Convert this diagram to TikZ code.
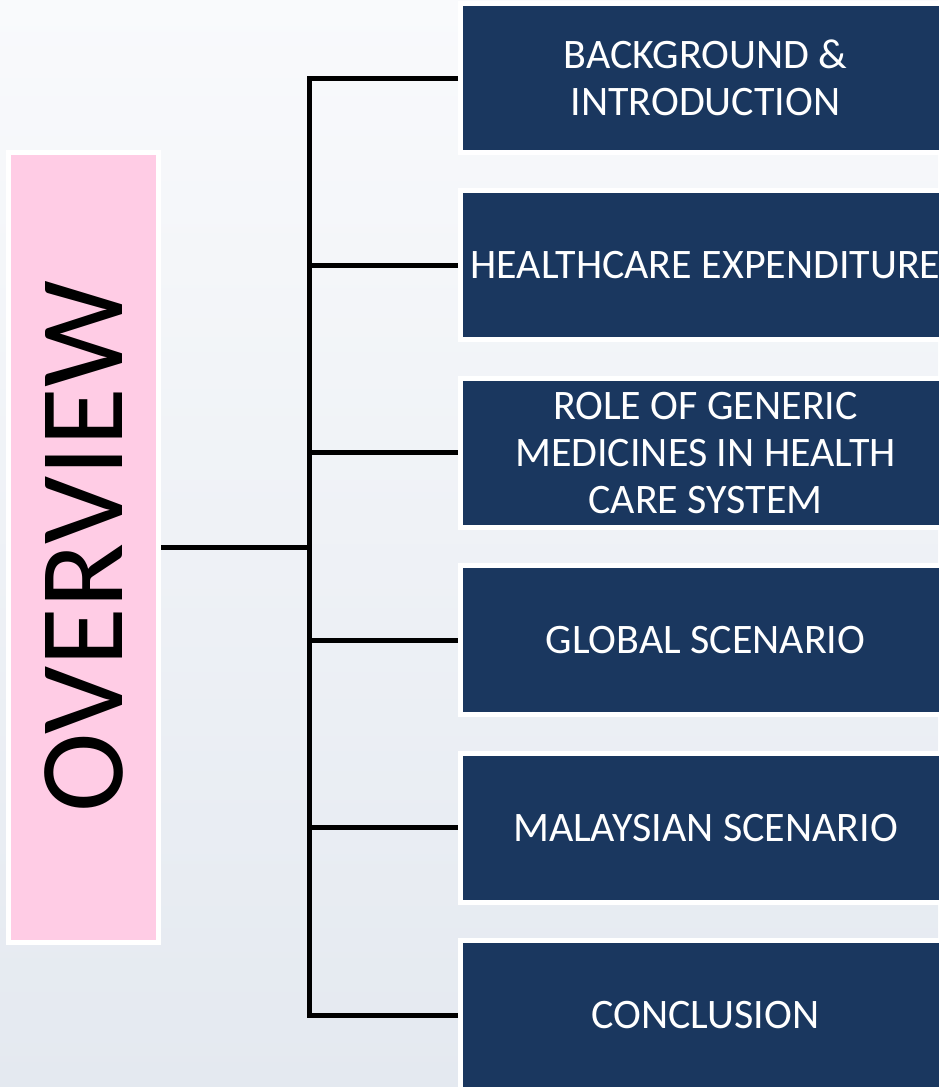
\documentclass[tikz,border=0pt]{standalone}
\usepackage{fontspec}
\setmainfont{Carlito}
\usetikzlibrary{positioning}
\definecolor{navybox}{HTML}{1A375F}
\definecolor{pinkbox}{HTML}{FFCCE5}
\definecolor{bgtop}{HTML}{F9FAFC}
\definecolor{bgbottom}{HTML}{E4E9F0}
\tikzset{
  topic/.style={fill=navybox, draw=white, line width=5pt, text=white,
    minimum width=490pt, minimum height=149pt, inner sep=0pt,
    align=center, anchor=west, font=\fontsize{42}{47}\selectfont},
  titlebox/.style={fill=pinkbox, draw=white, line width=5pt,
    minimum width=150pt, minimum height=790pt, inner sep=0pt},
  branch/.style={line width=5pt, black}
}

\begin{document}
\begin{tikzpicture}[x=1pt, y=-1pt]
% background
\shade[top color=bgtop, bottom color=bgbottom, use as bounding box] (0,0) rectangle (938,1087);
\node[titlebox] (overview) at (83.5,547) {};
\node[rotate=90, font=\fontsize{120}{124}\selectfont] (overview-text) at (overview.center) {OVERVIEW};
\foreach \txt [count=\i] in {{BACKGROUND \&\\INTRODUCTION}, {HEALTHCARE EXPENDITURE},
  {ROLE OF GENERIC\\MEDICINES IN HEALTH\\CARE SYSTEM}, {GLOBAL SCENARIO},
  {MALAYSIAN SCENARIO}, {CONCLUSION}}
  \node[topic] (topic-\i) at (458,{78+187.4*(\i-1)}) {\txt};
\coordinate (bus) at (309,547);
\draw[branch] (topic-1.west) -| (bus) |- (topic-6.west);
\draw[branch] (overview.east) -- (bus);
\foreach \i in {2,...,5}
  \draw[branch] (bus |- topic-\i.west) -- (topic-\i.west);
\end{tikzpicture}
\end{document}
